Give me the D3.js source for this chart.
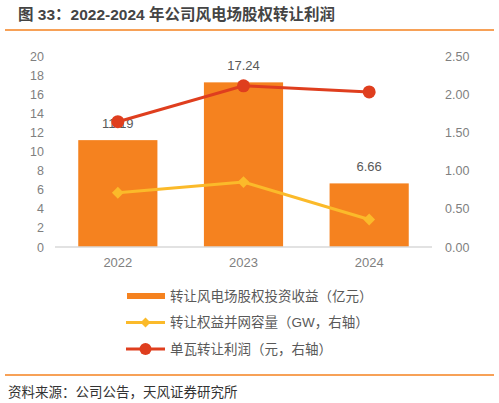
<!DOCTYPE html>
<html>
<head>
<meta charset="utf-8">
<script src="https://cdn.jsdelivr.net/npm/d3@7"></script>
<style>
  body { margin: 0; background: #fff; }
  text { font-family: "Liberation Sans", "Noto Sans CJK SC", sans-serif; }
</style>
</head>
<body>
<div id="chart"></div>
<script>
const years = ["2022", "2023", "2024"];
const gainValues = [11.19, 17.24, 6.66];          // 亿元, left axis
const capacityValues = [0.71, 0.85, 0.36];        // GW, right axis
const profitValues = [1.64, 2.11, 2.03];          // 元, right axis
const leftTicks = [0, 2, 4, 6, 8, 10, 12, 14, 16, 18, 20];
const rightTicks = [0, 0.5, 1, 1.5, 2, 2.5];
const legendLabels = ["转让风电场股权投资收益（亿元）", "转让权益并网容量（GW，右轴）", "单瓦转让利润（元，右轴）"];

const svgWidth = 499;
const svgHeight = 403;

const margin = { top: 56, left: 55, right: 67, bottom: 156 };
const width = svgWidth - margin.left - margin.right;
const height = svgHeight - margin.top - margin.bottom;

const barColor = "#F5821F";
const yellow = "#FBBA2A";
const red = "#DF3E1E";
const labelColor = "#7f7f7f";

const svg = d3.select("#chart")
  .append("svg")
  .attr("width", svgWidth)
  .attr("height", svgHeight);

// title + rules
svg.append("text")
  .attr("x", 18)
  .attr("y", 20)
  .attr("font-size", 15.5)
  .attr("font-weight", "bold")
  .attr("fill", "#444")
  .text("图 33：2022-2024 年公司风电场股权转让利润");

svg.append("line")
  .attr("x1", 5).attr("x2", 494)
  .attr("y1", 30).attr("y2", 30)
  .attr("stroke", "#F5821F").attr("stroke-width", 1.5);

svg.append("line")
  .attr("x1", 5).attr("x2", 494)
  .attr("y1", 375).attr("y2", 375)
  .attr("stroke", "#F5821F").attr("stroke-width", 1.5);

svg.append("text")
  .attr("x", 8)
  .attr("y", 397)
  .attr("font-size", 13.5)
  .attr("fill", "#333")
  .text("资料来源：公司公告，天风证券研究所");

const chartGroup = svg.append("g")
  .attr("transform", `translate(${margin.left}, ${margin.top})`);

// scales
const xScale = d3.scaleBand()
  .domain(years)
  .range([0, width])
  .paddingInner(0.37)
  .paddingOuter(0.185);

const yLeft = d3.scaleLinear().domain([0, 20]).range([height, 0]);
const yRight = d3.scaleLinear().domain([0, 2.5]).range([height, 0]);

// axes
const leftAxis = d3.axisLeft(yLeft).tickValues(leftTicks).tickSize(0).tickPadding(11);
const rightAxis = d3.axisRight(yRight).tickValues(rightTicks).tickSize(0).tickPadding(13)
  .tickFormat(d3.format(".2f"));
const bottomAxis = d3.axisBottom(xScale).tickSize(0).tickPadding(11);

const gl = chartGroup.append("g").call(leftAxis);
const gr = chartGroup.append("g").attr("transform", `translate(${width}, 0)`).call(rightAxis);
const gb = chartGroup.append("g").attr("transform", `translate(0, ${height})`).call(bottomAxis);

[gl, gr, gb].forEach(g => {
  g.select(".domain").remove();
  g.selectAll("text").attr("fill", labelColor).attr("font-size", 12.5)
    .attr("font-family", "Liberation Sans, sans-serif");
});
gb.selectAll("text").attr("font-size", 13);

// bars
chartGroup.selectAll(".bar")
  .data(gainValues)
  .join("rect")
  .attr("class", "bar")
  .attr("x", (d, i) => xScale(years[i]))
  .attr("width", xScale.bandwidth())
  .attr("y", d => yLeft(d))
  .attr("height", d => height - yLeft(d))
  .attr("fill", barColor);

chartGroup.append("line")
  .attr("x1", 0).attr("x2", width)
  .attr("y1", height).attr("y2", height)
  .attr("stroke", "#d9d9d9").attr("stroke-width", 1.5);

// bar labels
chartGroup.selectAll(".barLabel")
  .data(gainValues)
  .join("text")
  .attr("class", "barLabel")
  .attr("x", (d, i) => xScale(years[i]) + xScale.bandwidth() / 2)
  .attr("y", d => yLeft(d) - 12)
  .attr("text-anchor", "middle")
  .attr("font-size", 13)
  .attr("fill", "#595959")
  .text(d => d.toFixed(2));

const cx = i => xScale(years[i]) + xScale.bandwidth() / 2;

// yellow line
const capLine = d3.line().x((d, i) => cx(i)).y(d => yRight(d));
chartGroup.append("path")
  .datum(capacityValues)
  .attr("d", capLine)
  .attr("fill", "none")
  .attr("stroke", yellow)
  .attr("stroke-width", 3);

chartGroup.selectAll(".diamond")
  .data(capacityValues)
  .join("path")
  .attr("class", "diamond")
  .attr("transform", (d, i) => `translate(${cx(i)}, ${yRight(d)})`)
  .attr("d", d3.symbol(d3.symbolSquare, 70))
  .attr("transform", (d, i) => `translate(${cx(i)}, ${yRight(d)}) rotate(45)`)
  .attr("fill", yellow);

// red line
const profitLine = d3.line().x((d, i) => cx(i)).y(d => yRight(d));
chartGroup.append("path")
  .datum(profitValues)
  .attr("d", profitLine)
  .attr("fill", "none")
  .attr("stroke", red)
  .attr("stroke-width", 3);

chartGroup.selectAll(".dot")
  .data(profitValues)
  .join("circle")
  .attr("class", "dot")
  .attr("cx", (d, i) => cx(i))
  .attr("cy", d => yRight(d))
  .attr("r", 6.5)
  .attr("fill", red);

// legend
const legend = svg.append("g").attr("transform", "translate(126, 296)");
const rowGap = 26.5;

legendLabels.forEach((label, i) => {
  const row = legend.append("g").attr("transform", `translate(0, ${i * rowGap})`);
  if (i === 0) {
    row.append("rect").attr("x", 1).attr("y", -3).attr("width", 38).attr("height", 6).attr("fill", barColor);
  } else {
    const c = i === 1 ? yellow : red;
    row.append("line").attr("x1", 0).attr("x2", 39).attr("y1", 0).attr("y2", 0)
      .attr("stroke", c).attr("stroke-width", 3);
    if (i === 1) {
      row.append("path").attr("d", d3.symbol(d3.symbolSquare, 50))
        .attr("transform", "translate(19.5, 0) rotate(45)").attr("fill", c);
    } else {
      row.append("circle").attr("cx", 19.5).attr("cy", 0).attr("r", 6).attr("fill", c);
    }
  }
  row.append("text")
    .attr("x", 44)
    .attr("y", 0)
    .attr("dy", "0.35em")
    .attr("font-size", 13.5)
    .attr("fill", "#595959")
    .text(label);
});
</script>
</body>
</html>
